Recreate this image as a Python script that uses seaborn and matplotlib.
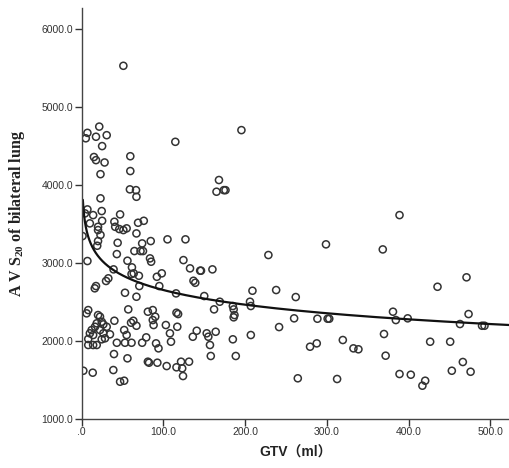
import numpy as np
import pandas as pd
import matplotlib
matplotlib.use("Agg")
import matplotlib.pyplot as plt
import seaborn as sns
from matplotlib.ticker import FuncFormatter

gtv = [51, 7, 5, 17.5, 21.5, 30.6, 25, 15, 17.5, 28, 23, 59.5, 59.5, 114.6, 195.5, 168, 165, 174, 176, 59,
       66.5, 67, 23, 7, 4, 14, 24.5, 25, 10, 47, 40, 41, 20, 20, 23, 46, 51, 55, 69, 76,
       67, 20, 19, 1, 44, 43, 74, 84.5, 64.5, 72, 75, 105, 127, 83.6, 85, 56, 7, 39, 61.5, 63.7,
       70, 61, 92, 98, 124.5, 132.6, 145, 146, 136.8, 139, 160, 32.6, 29.8, 17.5, 16, 95, 70.5, 53, 67, 115.5,
       150, 209, 162, 169, 185, 186, 186, 187, 206, 207, 57, 8, 6, 20, 22.4, 24.5, 26.5, 18.4, 16.3, 12.2,
       10, 14, 22.4, 26.5, 30.6, 34.6, 28.5, 24.5, 8, 8, 14, 18.4, 40, 52, 55, 60.4, 63.2, 67, 43, 53,
       61, 74, 79, 81, 87, 90, 87, 88, 103, 108, 109.3, 117, 116, 118, 91, 94, 39.5, 56, 81, 82.4,
       92.6, 104, 116, 121.6, 123, 124, 131.4, 2, 13.5, 38.7, 47, 52, 140.8, 153, 155, 164, 136, 157, 185, 207,
       158, 188.6, 228.5, 389, 299, 368.5, 471, 435.5, 238, 262, 260, 241.6, 288.5, 301, 303, 381, 384.5, 399, 473.5, 463,
       490, 493, 370, 319.6, 279.5, 287.7, 332.6, 338.7, 426.5, 451, 372, 466.5, 264.5, 312.6, 389, 402.8, 420.4, 417, 453, 476]
avs20 = [5530, 4670, 4600, 4620, 4750, 4640, 4500, 4360, 4320, 4290, 4140, 4370, 4180, 4555, 4705, 4065, 3915, 3935, 3935, 3945,
         3935, 3850, 3830, 3688, 3637, 3615, 3667, 3542, 3509, 3624, 3530, 3465, 3465, 3423, 3360, 3436, 3423, 3445, 3517, 3542,
         3380, 3282, 3222, 3346, 3260, 3115, 3252, 3282, 3154, 3154, 3154, 3304, 3304, 3060, 3017, 3030, 3026, 2919, 2945, 2868,
         2837, 2859, 2824, 2868, 3038, 2932, 2902, 2902, 2773, 2747, 2919, 2804, 2770, 2705, 2676, 2705, 2705, 2619, 2568, 2611,
         2577, 2645, 2406, 2504, 2449, 2406, 2304, 2333, 2504, 2449, 2406, 2397, 2355, 2333, 2312, 2247, 2214, 2227, 2183, 2141,
         2099, 2077, 2141, 2099, 2183, 2086, 2035, 2022, 2026, 1949, 1949, 1949, 2260, 2141, 2077, 2235, 2260, 2196, 1978, 1978,
         1978, 1978, 2047, 2376, 2397, 2312, 2269, 2205, 2205, 2099, 1991, 2183, 2363, 2346, 1970, 1906, 1833, 1778, 1735, 1722,
         1722, 1679, 1663, 1735, 1650, 1551, 1735, 1619, 1594, 1628, 1478, 1491, 2132, 2099, 2055, 2119, 2055, 1949, 2022, 2077,
         1808, 1808, 3103, 3615, 3240, 3175, 2817, 2696, 2654, 2564, 2291, 2179, 2286, 2286, 2286, 2376, 2269, 2291, 2346, 2218,
         2196, 2196, 2090, 2013, 1927, 1970, 1906, 1894, 1991, 1991, 1812, 1731, 1522, 1513, 1577, 1568, 1491, 1427, 1619, 1606]

# logarithmic fit line: y = a + b*ln(x)
fit_a = 3902.0
fit_b = -271.0
fit_x_range = [1.4, 523.0]

x_ticks = [0, 100, 200, 300, 400, 500]
y_ticks = [1000, 2000, 3000, 4000, 5000, 6000]

df = pd.DataFrame({"GTV": gtv, "AVS20": avs20})
fx = np.geomspace(fit_x_range[0], fit_x_range[1], 400)
fit_df = pd.DataFrame({"GTV": fx, "AVS20": fit_a + fit_b * np.log(fx)})

sns.set_style("white")
plt.rcParams['font.family'] = ['Liberation Sans', 'Noto Sans CJK SC', 'DejaVu Sans']
plt.rcParams['mathtext.fontset'] = 'custom'
plt.rcParams['mathtext.rm'] = 'Liberation Serif:bold'
plt.rcParams['mathtext.bf'] = 'Liberation Serif:bold'
plt.rcParams['mathtext.it'] = 'Liberation Serif:bold'

fig = plt.figure(figsize=(5.09, 4.68), dpi=100)
ax = fig.add_axes([0.1605, 0.1047, 0.8395, 0.878])

sns.scatterplot(data=df, x="GTV", y="AVS20", ax=ax, marker="o", s=26,
                facecolors="none", edgecolor="#333333", linewidth=1.1)
sns.lineplot(data=fit_df, x="GTV", y="AVS20", ax=ax, color="#111111", linewidth=1.6)

ax.set_xlim(0, 523)
ax.set_ylim(1000, 6270)
ax.set_xticks(x_ticks)
ax.set_yticks(y_ticks)

def fmt(v, pos):
    s = f"{v:.1f}"
    if s.startswith("0."):
        s = s[1:]
    return s

ax.xaxis.set_major_formatter(FuncFormatter(fmt))
ax.yaxis.set_major_formatter(FuncFormatter(fmt))
ax.tick_params(axis="both", which="major", direction="out", length=5, width=1,
               color="#333333", labelsize=7.5, labelcolor="#333333", pad=1,
               bottom=True, left=True)

for s in ["top", "right"]:
    ax.spines[s].set_visible(False)
for s in ["left", "bottom"]:
    ax.spines[s].set_color("#444444")
    ax.spines[s].set_linewidth(1.0)

ax.set_xlabel("GTV（ml）", fontsize=10, fontweight="bold",
              family=['Liberation Sans', 'Noto Sans CJK SC'], color="#222222", labelpad=6)
ax.set_ylabel("A V S$_{\\mathrm{20}}$ of bilateral lung", fontsize=11.5, fontweight="bold",
              family=['Liberation Serif'], color="#222222", labelpad=10)
ax.yaxis.set_label_coords(-0.128, 0.50)

fig.savefig("out.png", dpi=100)
